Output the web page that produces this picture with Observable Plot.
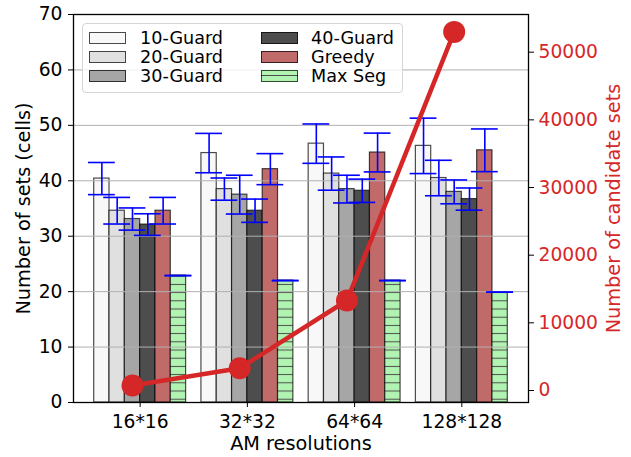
<!DOCTYPE html>
<html><head><meta charset="utf-8">
<script src="https://cdn.jsdelivr.net/npm/d3@7"></script>
<script src="https://cdn.jsdelivr.net/npm/@observablehq/plot@0.6"></script>
<style>
body{margin:0;background:#fff;}
#wrap{position:relative;width:631px;height:457px;font-family:"DejaVu Sans";overflow:hidden;}
#wrap svg{position:absolute;left:0;top:0;}
.leg{position:absolute;left:82px;top:23px;width:321px;height:70px;border:1px solid #d5d5d5;border-radius:4px;background:rgba(255,255,255,0.8);box-sizing:border-box;}
.sw{position:absolute;width:37px;height:12px;box-sizing:border-box;border:1px solid rgba(0,0,0,0.7);}
.lt{position:absolute;font-size:17.6px;line-height:20px;color:#000;white-space:nowrap;}
</style></head>
<body>
<svg width="0" height="0" style="position:absolute"><defs>
<pattern id="hatch" patternUnits="userSpaceOnUse" width="8" height="8.2" y="1.5">
<rect width="8" height="8.2" fill="#b1f3b1"/>
<line x1="0" x2="8" y1="4.1" y2="4.1" stroke="#4d4d4d" stroke-width="1"/>
</pattern></defs></svg>
<div id="wrap"></div>
<script>
const resolutions = ["16*16", "32*32", "64*64", "128*128"];
const series = ["10-Guard", "20-Guard", "30-Guard", "40-Guard", "Greedy", "Max Seg"];
const guard10 = [40.4, 45.0, 46.7, 46.3];
const guard20 = [34.6, 38.5, 41.3, 40.5];
const guard30 = [33.1, 37.5, 38.5, 38.0];
const guard40 = [32.1, 34.6, 38.2, 36.7];
const greedy  = [34.6, 42.1, 45.1, 45.5];
const maxSeg  = [22.9, 22.0, 22.0, 19.9];
const err10 = [2.9, 3.55, 3.55, 5.0];
const err20 = [2.4, 2.0, 3.0, 3.2];
const err30 = [2.0, 3.5, 2.5, 2.15];
const err40 = [1.95, 2.1, 2.1, 2.0];
const errGreedy = [2.4, 2.8, 3.5, 3.85];
const errMaxSeg = [0, 0, 0, 0];
const candidates = [740, 3300, 13300, 53000];
const leftTicks = [0, 10, 20, 30, 40, 50, 60, 70];
const rightTicks = [0, 10000, 20000, 30000, 40000, 50000];

const colors = ["#f8f8f8", "#e0e0e0", "#a6a6a6", "#4d4d4d", "#c06a6a", "url(#hatch)"];
const values = [guard10, guard20, guard30, guard40, greedy, maxSeg];
const errors = [err10, err20, err30, err40, errGreedy, errMaxSeg];
const red = "#d62728";
const w = 1 / 7;
const cap = 0.125;
const xDomain = [-0.5502, 3.6931];

const table = [];
series.forEach((s, j) => resolutions.forEach((r, i) => {
  table.push({s, r, i, j, xc: i + (j - 2) * w, v: values[j][i], e: errors[j][i], fill: colors[j]});
}));
const lineData = resolutions.map((r, i) => ({r, i, c: candidates[i]}));

const W = 631, H = 457;
const margins = {marginLeft: 73, marginRight: 103, marginTop: 14, marginBottom: 55};
const fs = 18.7;

const p1 = Plot.plot({
  width: W, height: H, ...margins,
  style: {fontFamily: "DejaVu Sans", background: "transparent", color: "black"},
  x: {domain: xDomain, axis: null},
  y: {domain: [0, 70], axis: null},
  marks: [
    Plot.rect(table, {x1: d => d.xc - w / 2, x2: d => d.xc + w / 2, y1: 0, y2: "v", fill: d => d.fill,
      stroke: "#000", strokeOpacity: 0.7, strokeWidth: 1.2}),
    Plot.gridY(leftTicks.slice(1, -1), {stroke: "#b0b0b0", strokeOpacity: 1, strokeWidth: 1}),
    Plot.ruleX(table, {x: "xc", y1: d => d.v - d.e, y2: d => d.v + d.e, stroke: "#0000ff", strokeWidth: 1.6}),
    Plot.ruleY(table, {x1: d => d.xc - cap, x2: d => d.xc + cap, y: d => d.v + d.e, stroke: "#0000ff", strokeWidth: 1.6}),
    Plot.ruleY(table, {x1: d => d.xc - cap, x2: d => d.xc + cap, y: d => d.v - d.e, stroke: "#0000ff", strokeWidth: 1.6}),
    Plot.axisX({ticks: resolutions.map((r, i) => i + w / 2), tickFormat: d => resolutions[Math.round(d - w / 2)],
      tickSize: 5, tickPadding: 7, fontSize: fs, label: null, stroke: "black", fill: "black"}),
    Plot.axisY({ticks: leftTicks, tickFormat: d3.format("d"), tickSize: 5, tickPadding: 6, fontSize: fs, label: null, stroke: "black", fill: "black"}),
    Plot.text(["AM resolutions"], {frameAnchor: "bottom", dy: 41, text: d => d, fontSize: 19.3, fill: "black", lineAnchor: "middle", textAnchor: "middle"}),
    Plot.text(["Number of sets (cells)"], {frameAnchor: "left", dx: -50, text: d => d, rotate: -90, fontSize: 19.3, fill: "black", lineAnchor: "middle", textAnchor: "middle"}),
    Plot.frame({stroke: "black", strokeWidth: 1.3})
  ]
});

const p2 = Plot.plot({
  width: W, height: H, ...margins,
  style: {fontFamily: "DejaVu Sans", background: "transparent", color: "black"},
  x: {domain: xDomain, axis: null},
  y: {domain: [-1774, 55572], axis: null},
  marks: [
    Plot.line(lineData, {x: "i", y: "c", stroke: red, strokeWidth: 4.5}),
    Plot.dot(lineData, {x: "i", y: "c", r: 11, fill: red, stroke: "none"}),
    Plot.axisY({anchor: "right", ticks: rightTicks, tickFormat: d3.format("d"), tickSize: 5, tickPadding: 5, fontSize: fs, label: null, stroke: "black", fill: red}),
    Plot.text(["Number of candidate sets"], {frameAnchor: "right", dx: 85, text: d => d, rotate: -90, fontSize: 19.3, fill: red, lineAnchor: "middle", textAnchor: "middle"})
  ]
});

const wrap = document.getElementById("wrap");
wrap.appendChild(p1);
wrap.appendChild(p2);

// legend
const leg = document.createElement("div");
leg.className = "leg";
const legColors = ["#f8f8f8", "#e0e0e0", "#a6a6a6", "#4d4d4d", "#c06a6a", "hatch"];
series.forEach((s, j) => {
  const col = Math.floor(j / 3), row = j % 3;
  const cy = 14 + row * 19;
  const sw = document.createElement("div");
  sw.className = "sw";
  sw.style.left = (col === 0 ? 5.5 : 177.5) + "px";
  sw.style.top = (cy - 6) + "px";
  if (legColors[j] === "hatch") {
    sw.style.background = "linear-gradient(to bottom, #b1f3b1 0, #b1f3b1 4.5px, #4d4d4d 4.5px, #4d4d4d 5.5px, #b1f3b1 5.5px)";
  } else sw.style.background = legColors[j];
  leg.appendChild(sw);
  const t = document.createElement("div");
  t.className = "lt";
  t.textContent = s;
  t.style.left = (col === 0 ? 57 : 228) + "px";
  t.style.top = (cy - 10) + "px";
  leg.appendChild(t);
});
wrap.appendChild(leg);
</script>
</body></html>
